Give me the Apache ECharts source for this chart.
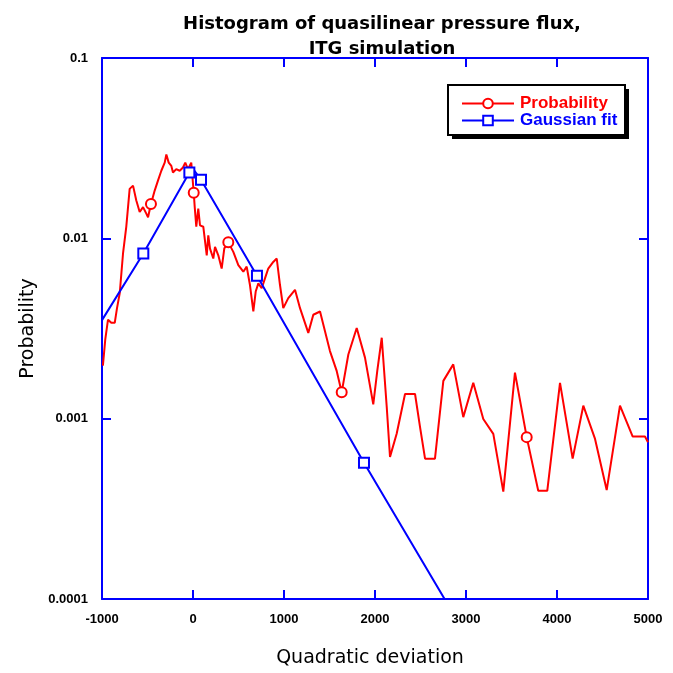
<!DOCTYPE html>
<html>
<head>
<meta charset="utf-8">
<script src="https://cdn.jsdelivr.net/npm/echarts@6/dist/echarts.min.js"></script>
<style>
  html, body { margin: 0; padding: 0; background: #fff; }
  #chart { width: 673px; height: 673px; }
</style>
</head>
<body>
<div id="chart"></div>
<script>
// histogram (red)
var probX = [-990, -964, -934, -898, -860, -835, -805, -769, -733, -696, -659, -623, -586, -549, -513, -494,
  -462, -421, -385, -348, -311, -293, -267, -238, -220, -184, -146, -110, -85, -55, -19,
  8, 19, 36, 58, 77, 113, 151, 168, 187, 223, 242, 278, 315, 344, 388, 443, 498, 553, 590,
  626, 663, 689, 718, 755, 791, 827, 882, 920, 956, 992, 1047, 1121, 1176, 1267, 1322, 1396,
  1505, 1579, 1634, 1707, 1799, 1890, 1981, 2025, 2074, 2129, 2165, 2238, 2330, 2440, 2495,
  2550, 2659, 2751, 2860, 2970, 3080, 3190, 3300, 3410, 3538, 3667, 3794, 3893, 4033, 4172,
  4289, 4418, 4546, 4692, 4832, 4967, 5000];
var probY = [0.00197, 0.00275, 0.00354, 0.0034, 0.0034, 0.0041, 0.00497, 0.00824, 0.0116, 0.0188, 0.0196, 0.0162, 0.0140, 0.0149, 0.0137, 0.0131,
  0.0155, 0.0184, 0.0209, 0.0237, 0.0263, 0.0292, 0.0263, 0.0252, 0.0232, 0.0242, 0.0237, 0.0247, 0.0263, 0.0242, 0.0263,
  0.0179, 0.0149, 0.0116, 0.0146, 0.0118, 0.0116, 0.00805, 0.0104, 0.00877, 0.00773, 0.00897, 0.00805, 0.0068, 0.0088, 0.0095, 0.00841, 0.0071, 0.00653, 0.00697,
  0.00551, 0.00393, 0.00507, 0.00563, 0.00529, 0.0060, 0.0068, 0.0074, 0.00773, 0.00551, 0.0041, 0.00466, 0.00518, 0.0041, 0.00299, 0.00377, 0.00393,
  0.00237, 0.00184, 0.0014, 0.00227, 0.00318, 0.00218, 0.00120, 0.00184, 0.00281, 0.00116, 0.000614, 0.000824, 0.00137, 0.00137, 0.000897,
  0.0006, 0.0006, 0.00162, 0.0020, 0.00102, 0.00158, 0.000996, 0.000824, 0.000394, 0.0018, 0.00079, 0.000398, 0.000398, 0.00158, 0.0006,
  0.00118, 0.000772, 0.000402, 0.00118, 0.000796, 0.000796, 0.00074];
var probMarks = [-462, 8, 388, 1634, 3667];

// fitted curve (blue)
var fitX = [-1000, -546, -40, -10, 88, 703, 1879, 3000];
var fitY = [0.00352, 0.00824, 0.0232, 0.0247, 0.0211, 0.00621, 0.000569, 0.000063];
var fitMarks = [-546, -40, 88, 703, 1879];

var xTicks = [-1000, 0, 1000, 2000, 3000, 4000, 5000];
var yTicks = ['0.0001', '0.001', '0.01', '0.1'];

function build(xs, ys, marks) {
  return xs.map(function (x, i) {
    var item = { value: [x, ys[i]] };
    if (marks.indexOf(x) < 0) item.symbol = 'none';
    return item;
  });
}

var chart = echarts.init(document.getElementById('chart'));
var blue = '#0000ff', red = '#ff0000';
var font = '"Liberation Sans", Arial, sans-serif';
var wide = '"DejaVu Sans", sans-serif';

var baseX = {
  type: 'value', min: xTicks[0], max: xTicks[xTicks.length - 1], interval: 1000,
  axisLine: { onZero: false, lineStyle: { color: blue, width: 2 } },
  axisTick: { inside: true, length: 9, lineStyle: { color: blue, width: 2 } },
  splitLine: { show: false }
};
var baseY = {
  type: 'log', logBase: 10, min: 0.0001, max: 0.1,
  axisLine: { onZero: false, lineStyle: { color: blue, width: 2 } },
  axisTick: { inside: true, length: 9, lineStyle: { color: blue, width: 2 } },
  splitLine: { show: false },
  minorTick: { show: false }
};

var option = {
  animation: false,
  backgroundColor: '#fff',
  title: {
    text: 'Histogram of quasilinear pressure flux,\nITG simulation',
    left: 377, top: 7, textAlign: 'center',
    textStyle: { fontFamily: wide, fontWeight: 'bold', fontSize: 18, color: '#000', lineHeight: 25 }
  },
  graphic: [
    { type: 'rect', shape: { x: 452, y: 89, width: 177, height: 50 }, style: { fill: '#000' }, z: 10 },
    { type: 'rect', shape: { x: 448, y: 85, width: 177, height: 50 }, style: { fill: '#fff', stroke: '#000', lineWidth: 2 }, z: 11 }
  ],
  legend: {
    left: 461, top: 95, z: 20,
    orient: 'vertical', itemGap: 0, itemWidth: 52, itemHeight: 12,
    padding: 0,
    textStyle: { fontFamily: font, fontWeight: 'bold', fontSize: 17, padding: [0, 0, 0, 1] },
    data: [
      { name: 'Probability', textStyle: { color: red } },
      { name: 'Gaussian fit', textStyle: { color: blue } }
    ]
  },
  grid: { left: 102, right: 25, top: 58, bottom: 70 },
  xAxis: [
    Object.assign({}, baseX, {
      position: 'bottom',
      name: 'Quadratic deviation', nameLocation: 'middle', nameGap: 50,
      nameTextStyle: { fontFamily: wide, fontSize: 19, color: '#000', padding: [0, 10, 0, 0] },
      axisLabel: {
        margin: 14, fontFamily: font, fontWeight: 'bold', fontSize: 13, color: '#000',
        formatter: function (v) { return String(v); }
      }
    }),
    Object.assign({}, baseX, { position: 'top', axisLabel: { show: false } })
  ],
  yAxis: [
    Object.assign({}, baseY, {
      position: 'left',
      name: 'Probability', nameLocation: 'middle', nameGap: 61, nameRotate: 90,
      nameTextStyle: { fontFamily: wide, fontSize: 19, color: '#000' },
      axisLabel: {
        margin: 14, fontFamily: font, fontWeight: 'bold', fontSize: 13, color: '#000',
        formatter: function (v) {
          var e = Math.round(Math.log10(v));
          return yTicks[e + 4];
        }
      }
    }),
    Object.assign({}, baseY, { position: 'right', axisLabel: { show: false } })
  ],
  series: [
    {
      name: 'Probability', type: 'line', xAxisIndex: 0, yAxisIndex: 0,
      data: build(probX, probY, probMarks),
      symbol: 'emptyCircle', symbolSize: 10, showAllSymbol: true,
      lineStyle: { color: red, width: 2 },
      itemStyle: { color: red, borderColor: red, borderWidth: 1.5 }
    },
    {
      name: 'Gaussian fit', type: 'line', xAxisIndex: 0, yAxisIndex: 0,
      data: build(fitX, fitY, fitMarks),
      symbol: 'emptyRect', symbolSize: 10, showAllSymbol: true,
      lineStyle: { color: blue, width: 2 },
      itemStyle: { color: blue, borderColor: blue, borderWidth: 1.5 },
      clip: true
    }
  ]
};
chart.setOption(option);
</script>
</body>
</html>
